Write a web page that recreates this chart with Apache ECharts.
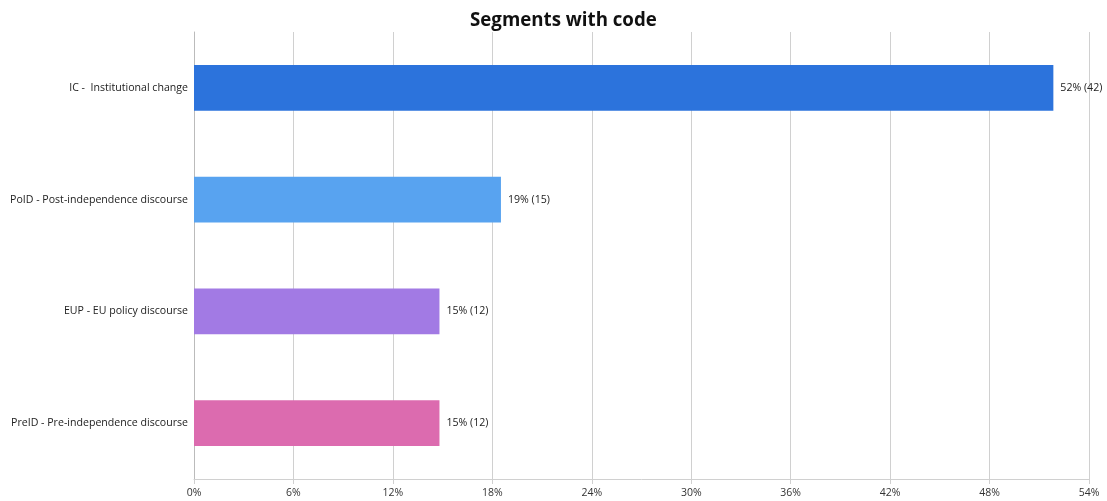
<!DOCTYPE html>
<html><head><meta charset="utf-8">
<script src="https://cdn.jsdelivr.net/npm/echarts@6/dist/echarts.min.js"></script>
<style>html,body{margin:0;padding:0;background:#fff}#c{width:1107px;height:501px}</style>
</head><body><div id="c"></div>
<script>
const categories = ["IC -  Institutional change","PoID - Post-independence discourse","EUP - EU policy discourse","PreID - Pre-independence discourse"];
const percents = [51.85, 18.52, 14.81, 14.81];
const counts = [42, 15, 12, 12];
const labels = ["52%","19%","15%","15%"];
const colors = ["#2c73dc","#58a3f0","#a27ae4","#dc6baf"];
const tickLabels = ["0%","6%","12%","18%","24%","30%","36%","42%","48%","54%"];
const font = "'Open Sans', 'Noto Sans', sans-serif";
const chart = echarts.init(document.getElementById('c'));
chart.setOption({
  animation:false,
  title:{text:"Segments with code",left:465,top:6,textStyle:{fontFamily:font,fontSize:18.7,fontWeight:'bold',color:'#111'}},
  grid:{left:194,right:18,top:32,bottom:22,containLabel:false},
  xAxis:{type:'value',min:0,max:54,interval:6,
    axisLine:{show:true,lineStyle:{color:'#d0d0d0'}},
    axisTick:{show:true,length:5,lineStyle:{color:'#d0d0d0'}},
    splitLine:{show:true,lineStyle:{color:'#d0d0d0'}},
    axisLabel:{fontFamily:font,fontSize:10.5,color:'#333',margin:9,
      formatter:(v)=>tickLabels[Math.round(v/6)]}},
  yAxis:{type:'category',inverse:true,data:categories,
    axisLine:{show:true,lineStyle:{color:'#bbb'}},axisTick:{show:false},
    axisLabel:{fontFamily:font,fontSize:10.6,color:'#222',margin:6}},
  series:[{type:'bar',barWidth:'41%',
    data:percents.map((v,i)=>({value:v,itemStyle:{color:colors[i]}})),
    label:{show:true,position:'right',distance:7,fontFamily:font,fontSize:10.6,color:'#222',
      formatter:(p)=>labels[p.dataIndex]+" ("+counts[p.dataIndex]+")"}}]
});
</script></body></html>
